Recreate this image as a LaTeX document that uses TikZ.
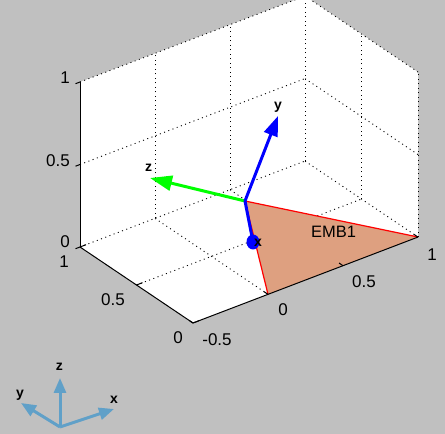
\documentclass[tikz,border=0pt]{standalone}
\usepackage{fontspec}
\setmainfont{Liberation Sans}
\usetikzlibrary{arrows.meta}
\definecolor{bg}{RGB}{192,192,192}
\definecolor{patchc}{RGB}{222,160,128}
\definecolor{triad}{RGB}{96,160,200}
\definecolor{zgreen}{RGB}{0,255,0}
\begin{document}
\begin{tikzpicture}[x=1pt,y=1pt,
  every node/.style={inner sep=0pt},
  ticklab/.style={font=\fontsize{17}{17}\selectfont},
  axlab/.style={font=\bfseries\fontsize{14}{14}\selectfont},
  gridline/.style={black, line width=0.9pt, dash pattern=on 1pt off 3.5pt},
  axisline/.style={black, line width=1pt},
  triadarrow/.style={triad, line width=3pt, -{Triangle[length=15pt,width=12pt]}}]
\useasboundingbox (0,0) rectangle (445,434);
\fill[bg] (0,0) rectangle (445,434);
\begin{scope}
\clip (0,0) rectangle (445,434);
\begin{scope}[shift={(268pt,139.65pt)}, x={(150pt,57.3pt)}, y={(-113pt,76pt)}, z={(0pt,165pt)}]
  \fill[white] (-0.5,1,0) -- (-0.5,1,1) -- (1,1,1) -- (1,0,1) -- (1,0,0) -- (-0.5,0,0) -- cycle;
  % bottom grid
  \foreach \a in {0,0.5,1} \draw[gridline] (\a,0,0) -- (\a,1,0);
  \foreach \a in {0.5,1} \draw[gridline] (-0.5,\a,0) -- (1,\a,0);
  % back-left wall (y=1)
  \foreach \a in {0,0.5,1} \draw[gridline] (\a,1,0) -- (\a,1,1);
  \foreach \a in {0.5,1} \draw[gridline] (-0.5,1,\a) -- (1,1,\a);
  % right wall (x=1)
  \foreach \a in {0,0.5} \draw[gridline] (1,\a,0) -- (1,\a,1);
  \foreach \a in {0.5,1} \draw[gridline] (1,0,\a) -- (1,1,\a);
\end{scope}
\end{scope}
% patch
\coordinate (O) at (245,233);
\coordinate (X1) at (418,197);
\coordinate (X0) at (268,139.65);
\fill[patchc] (O) -- (X1) -- (X0) -- cycle;
\draw[red, line width=1.2pt] (X0) -- (O) -- (X1);
% axes
\begin{scope}[shift={(268pt,139.65pt)}, x={(150pt,57.3pt)}, y={(-113pt,76pt)}, z={(0pt,165pt)}]
  \draw[axisline] (-0.5,0,0) -- (1,0,0);
  \draw[axisline] (-0.5,0,0) -- (-0.5,1,0);
  \draw[axisline] (-0.5,1,0) -- (-0.5,1,1);
  \foreach \a in {-0.5,0,0.5,1} \draw[axisline] (\a,0,0) -- (\a,0.035,0);
  \foreach \a in {0,0.5,1} \draw[axisline] (-0.5,\a,0) -- (-0.46,\a,0);
  \foreach \a in {0,0.5,1} \draw[axisline] (-0.5,1,\a) -- (-0.53,1,\a);
\end{scope}
% tick labels
\node[ticklab, anchor=east] (zt1) at (70,356) {1};
\node[ticklab, anchor=east] (zt05) at (70,273) {0.5};
\node[ticklab, anchor=east] (zt0) at (70,192) {0};
\node[ticklab] (yt1) at (64,172) {1};
\node[ticklab] (yt05) at (113,134) {0.5};
\node[ticklab] (yt0) at (178,96) {0};
\node[ticklab] (xtm05) at (217,94) {-0.5};
\node[ticklab] (xt0) at (283,124) {0};
\node[ticklab] (xt05) at (364,152) {0.5};
\node[ticklab] (xt1) at (432,179) {1};
% frame arrows
\coordinate (ztip) at (150,256);
\coordinate (ytip) at (278,318);
\coordinate (xb) at (253,192);
\draw[zgreen, line width=3pt, -{Triangle[length=22pt,width=15pt]}] (O) -- (ztip);
\draw[blue, line width=3pt, -{Triangle[length=20pt,width=14pt]}] (O) -- (ytip);
\draw[blue, line width=3pt] (O) -- (xb);
\fill[blue] (xb) ellipse (6.5 and 7.5);
\node[axlab] (ylab) at (278,327) {y};
\node[axlab] (zlab) at (148.5,266.5) {z};
\node[axlab] (xlab) at (258,191) {x};
\node[font=\fontsize{16.5}{16.5}\selectfont] (emb) at (333.5,202) {EMB1};
% triad
\coordinate (t0) at (60,7);
\coordinate (tz) at (60,56);
\coordinate (ty) at (21,31);
\coordinate (tx) at (114,25);
\draw[triadarrow] (t0) -- (tz);
\draw[triadarrow] (t0) -- (ty);
\draw[triadarrow] (t0) -- (tx);
\node[axlab] (tzl) at (59.5,67.5) {z};
\node[axlab] (tyl) at (20,38.5) {y};
\node[axlab] (txl) at (114,34) {x};
\end{tikzpicture}
\end{document}
